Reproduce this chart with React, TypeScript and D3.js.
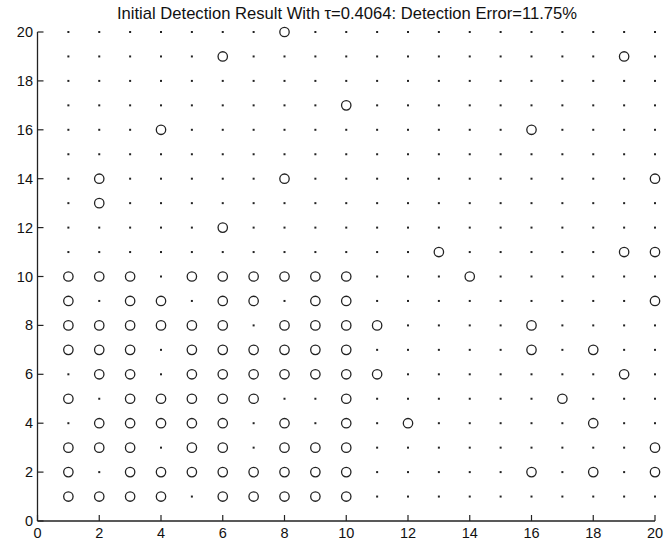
import React from "react";
import * as d3 from "d3";

const gridValues = [1, 2, 3, 4, 5, 6, 7, 8, 9, 10, 11, 12, 13, 14, 15, 16, 17, 18, 19, 20];
const xTicks = [0, 2, 4, 6, 8, 10, 12, 14, 16, 18, 20];
const yTicks = [0, 2, 4, 6, 8, 10, 12, 14, 16, 18, 20];

// detected cells (x per row y)
const detectedRows: [number, number[]][] = [
  [20, [8]],
  [19, [6, 19]],
  [17, [10]],
  [16, [4, 16]],
  [14, [2, 8, 20]],
  [13, [2]],
  [12, [6]],
  [11, [13, 19, 20]],
  [10, [1, 2, 3, 5, 6, 7, 8, 9, 10, 14]],
  [9, [1, 3, 4, 6, 7, 9, 10, 20]],
  [8, [1, 2, 3, 4, 5, 6, 8, 9, 10, 11, 16]],
  [7, [1, 2, 3, 5, 6, 7, 8, 9, 10, 16, 18]],
  [6, [2, 3, 5, 6, 7, 8, 9, 10, 11, 19]],
  [5, [1, 3, 4, 5, 6, 7, 10, 17]],
  [4, [2, 3, 4, 5, 6, 8, 10, 12, 18]],
  [3, [1, 2, 3, 5, 6, 8, 9, 10, 20]],
  [2, [1, 3, 4, 5, 6, 7, 8, 9, 10, 16, 18, 20]],
  [1, [1, 2, 3, 4, 6, 7, 8, 9, 10]],
];

const title = "Initial Detection Result With \u03c4=0.4064: Detection Error=11.75%";

export default function App() {
  const W = 671, H = 545;
  const x = d3.scaleLinear().domain([0, 20]).range([37.5, 655]);
  const y = d3.scaleLinear().domain([0, 20]).range([521, 32]);
  const detected = new Set<string>();
  detectedRows.forEach(([yy, xs]) => xs.forEach((xx) => detected.add(`${xx},${yy}`)));
  const cells: { gx: number; gy: number; on: boolean }[] = [];
  gridValues.forEach((gy) =>
    gridValues.forEach((gx) => cells.push({ gx, gy, on: detected.has(`${gx},${gy}`) }))
  );
  const font = "'Liberation Sans', Arial, Helvetica, sans-serif";
  return (
    <svg width={W} height={H} style={{ position: "absolute", left: 0, top: 0, background: "#fff" }}>
      <rect x={0} y={0} width={W} height={H} fill="#fff" />
      <text x={347} y={19} textAnchor="middle" fontFamily={font} fontSize={16.6} fill="#111">
        {title}
      </text>
      {cells.map((c, i) =>
        c.on ? (
          <circle key={i} cx={x(c.gx)} cy={y(c.gy)} r={4.7} fill="none" stroke="#222" strokeWidth={1.3} />
        ) : (
          <rect key={i} x={x(c.gx) - 1} y={y(c.gy) - 1} width={2} height={2} fill="#222" />
        )
      )}
      <line x1={x(0)} x2={x(0)} y1={y(0)} y2={y(20)} stroke="#222" strokeWidth={1.3} />
      <line x1={x(0)} x2={x(20)} y1={y(0)} y2={y(0)} stroke="#222" strokeWidth={1.3} />
      {xTicks.map((t) => (
        <g key={"x" + t}>
          <line x1={x(t)} x2={x(t)} y1={y(0)} y2={y(0) - 6} stroke="#222" strokeWidth={1.2} />
          <text x={x(t)} y={y(0) + 17} textAnchor="middle" fontFamily={font} fontSize={14.5} fill="#111">
            {t}
          </text>
        </g>
      ))}
      {yTicks.map((t) => (
        <g key={"y" + t}>
          <line x1={x(0)} x2={x(0) + 6} y1={y(t)} y2={y(t)} stroke="#222" strokeWidth={1.2} />
          <text x={x(0) - 4.5} y={y(t) + 5} textAnchor="end" fontFamily={font} fontSize={14.5} fill="#111">
            {t}
          </text>
        </g>
      ))}
    </svg>
  );
}
